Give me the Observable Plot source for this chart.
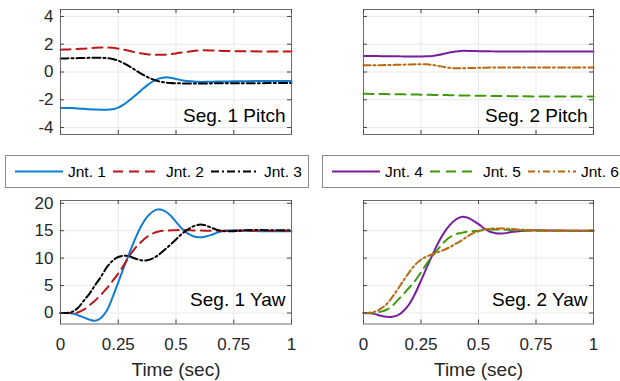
<!DOCTYPE html>
<html><head><meta charset="utf-8">
<script src="https://cdn.jsdelivr.net/npm/d3@7"></script>
<script src="https://cdn.jsdelivr.net/npm/@observablehq/plot@0.6"></script>
<style>
html,body{margin:0;padding:0;background:#fff;}
#chart{position:relative;width:620px;height:381px;overflow:hidden;background:#fff;font-family:"Liberation Sans",Arial,sans-serif;}
#chart > svg{position:absolute;}
</style></head><body><div id="chart"></div>
<script>
// ---- data ----
const time = [0,0.025,0.05,0.075,0.1,0.125,0.15,0.175,0.2,0.225,0.25,0.275,0.3,0.325,0.35,0.375,0.4,0.425,0.45,0.475,0.5,0.525,0.55,0.575,0.6,0.625,0.65,0.675,0.7,0.75,0.8,0.9,1];

const jnt1Pitch = [-2.58,-2.59,-2.60,-2.62,-2.65,-2.68,-2.70,-2.72,-2.72,-2.68,-2.56,-2.33,-2.02,-1.67,-1.31,-0.96,-0.67,-0.48,-0.39,-0.41,-0.50,-0.59,-0.65,-0.69,-0.71,-0.71,-0.70,-0.69,-0.69,-0.67,-0.66,-0.65,-0.65];
const jnt2Pitch = [1.60,1.62,1.64,1.66,1.68,1.71,1.74,1.76,1.76,1.74,1.68,1.60,1.51,1.41,1.34,1.28,1.25,1.24,1.25,1.29,1.34,1.40,1.46,1.52,1.55,1.56,1.55,1.53,1.52,1.50,1.49,1.48,1.48];
const jnt3Pitch = [0.97,0.98,0.99,1.00,1.01,1.02,1.03,1.02,1.00,0.94,0.82,0.62,0.39,0.13,-0.13,-0.35,-0.53,-0.67,-0.75,-0.79,-0.81,-0.82,-0.82,-0.82,-0.82,-0.82,-0.82,-0.81,-0.81,-0.81,-0.81,-0.80,-0.80];
const jnt4Pitch = [1.15,1.15,1.15,1.14,1.14,1.13,1.13,1.12,1.12,1.12,1.12,1.13,1.16,1.22,1.31,1.41,1.48,1.52,1.52,1.51,1.50,1.49,1.49,1.48,1.48,1.48,1.48,1.48,1.48,1.48,1.48,1.48,1.48];
const jnt5Pitch = [-1.57,-1.575,-1.58,-1.585,-1.59,-1.60,-1.605,-1.61,-1.62,-1.625,-1.63,-1.64,-1.65,-1.655,-1.66,-1.67,-1.68,-1.685,-1.69,-1.70,-1.71,-1.715,-1.72,-1.725,-1.73,-1.735,-1.74,-1.745,-1.75,-1.76,-1.765,-1.77,-1.77];
const jnt6Pitch = [0.48,0.48,0.49,0.49,0.50,0.51,0.52,0.53,0.54,0.55,0.55,0.55,0.51,0.44,0.36,0.30,0.27,0.27,0.28,0.29,0.30,0.31,0.32,0.32,0.33,0.33,0.33,0.33,0.33,0.33,0.33,0.33,0.33];

const jnt1Yaw = [0,0,-0.1,-0.4,-0.8,-1.2,-1.4,-0.9,0.4,2.8,5.6,8.4,11.1,13.7,15.9,17.5,18.5,18.9,18.6,17.8,16.6,15.4,14.5,14.0,13.8,13.9,14.2,14.6,14.9,15.1,15.0,14.9,14.9];
const jnt2Yaw = [0,0,0,0.1,0.6,1.4,2.3,3.3,4.5,5.8,7.2,8.8,10.5,11.9,13.0,13.9,14.5,14.85,15.0,15.05,15.1,15.1,15.1,15.05,15.05,15.0,15.0,15.0,15.0,15.0,15.0,15.0,15.0];
const jnt3Yaw = [0,0,0.2,0.9,2.2,3.5,5.1,6.6,8.3,9.5,10.2,10.45,10.3,9.9,9.6,9.6,9.95,10.6,11.5,12.4,13.4,14.4,15.2,15.8,16.1,16.0,15.6,15.2,14.95,14.9,15.1,15.1,15.1];
const jnt4Yaw = [0,-0.05,-0.2,-0.5,-0.7,-0.7,-0.4,0.4,1.7,3.6,5.9,8.3,10.6,12.8,14.6,16.0,17.0,17.5,17.4,16.9,16.2,15.4,14.8,14.55,14.5,14.6,14.8,14.9,15.0,15.1,15.05,15.0,15.0];
const jnt5Yaw = [0,0,0.05,0.25,0.6,1.3,2.4,3.5,4.7,5.9,7.4,9.0,10.4,11.7,12.9,13.8,14.35,14.6,14.8,14.9,15.0,15.1,15.2,15.2,15.2,15.15,15.1,15.1,15.05,15.0,15.0,15.0,15.0];
const jnt6Yaw = [0,0.05,0.25,0.8,1.6,2.9,4.4,6.0,7.5,8.8,9.7,10.3,10.7,11.1,11.5,12.0,12.6,13.2,13.9,14.5,14.9,15.2,15.35,15.4,15.4,15.35,15.3,15.2,15.15,15.05,15.0,15.0,15.0];

const jointNames = ["Jnt. 1","Jnt. 2","Jnt. 3","Jnt. 4","Jnt. 5","Jnt. 6"];
const jointColors = ["#0d7dd6","#bf1515","#000000","#7a1ea0","#3d9b0a","#b8690d"];
const jointDashes = [null,"10,6","8,3,2,3",null,"10,6","7,3,2,3"];
const pitchTicks = [-4,-2,0,2,4];
const yawTicks = [0,5,10,15,20];
const timeTicks = [0,0.25,0.5,0.75,1];
const panelLabels = ["Seg. 1 Pitch","Seg. 2 Pitch","Seg. 1 Yaw","Seg. 2 Yaw"];
const xAxisLabel = "Time (sec)";

// ---- drawing ----
const FONT = '"Liberation Sans", Arial, Helvetica, sans-serif';
const chart = document.getElementById("chart");
const rows = vals => time.map((t, i) => ({t, v: vals[i]}));

function panel({series, idx, yDomain, yTicks, label, showY, showX, left, top, width, height, mL, mR, mT, mB, labelDy}) {
  const pw = width - mL - mR, ph = height - mT - mB;
  const marks = [
    Plot.gridX(timeTicks, {x: d => d, stroke: "#e8e8e8", strokeOpacity: 1}),
    Plot.gridY(yTicks, {y: d => d, stroke: "#e8e8e8", strokeOpacity: 1}),
    ...series.map((s, k) => Plot.line(rows(s), {
      x: "t", y: "v", stroke: jointColors[idx[k]], strokeWidth: 2,
      strokeDasharray: jointDashes[idx[k]], curve: "catmull-rom"
    })),
    Plot.frame({stroke: "#6b6b6b", strokeWidth: 1}),
    Plot.tickY(yTicks, {y: d => d, insetRight: pw - 4, stroke: "#444"}),
    Plot.tickY(yTicks, {y: d => d, insetLeft: pw - 4, stroke: "#444"}),
    Plot.tickX(timeTicks, {x: d => d, insetTop: ph - 4, stroke: "#444"}),
    Plot.tickX(timeTicks, {x: d => d, insetBottom: ph - 4, stroke: "#444"}),
    Plot.text([label], {text: d => d, frameAnchor: "bottom-right", textAnchor: "end", lineAnchor: "bottom", dx: -6, dy: labelDy, fontSize: 19, fill: "#000"})
  ];
  if (showY) marks.push(Plot.axisY({ticks: yTicks, tickSize: 0, tickPadding: 7, tickFormat: d => String(d), label: null, fontSize: 17}));
  if (showX) {
    marks.push(Plot.axisX({ticks: timeTicks, tickSize: 0, tickPadding: 14, tickFormat: d => String(d), label: null, fontSize: 17}));
    marks.push(Plot.text([xAxisLabel], {text: d => d, frameAnchor: "bottom", lineAnchor: "bottom", dy: 51.5, fontSize: 19, fill: "#262626"}));
  }
  const svg = Plot.plot({
    width, height, marginLeft: mL, marginRight: mR, marginTop: mT, marginBottom: mB,
    x: {domain: [0, 1], axis: null},
    y: {domain: yDomain, axis: null},
    style: {fontFamily: FONT, fontSize: "17px", color: "#262626", background: "transparent", overflow: "visible"},
    marks
  });
  svg.style.left = left + "px";
  svg.style.top = top + "px";
  chart.appendChild(svg);
}

panel({series: [jnt1Pitch, jnt2Pitch, jnt3Pitch], idx: [0,1,2], yDomain: [-4.5, 4.5], yTicks: pitchTicks, label: panelLabels[0], showY: true, showX: false, left: 0, top: 0, width: 310, height: 150, mL: 60, mR: 19, mT: 9, mB: 16, labelDy: -13});
panel({series: [jnt4Pitch, jnt5Pitch, jnt6Pitch], idx: [3,4,5], yDomain: [-4.5, 4.5], yTicks: pitchTicks, label: panelLabels[1], showY: false, showX: false, left: 310, top: 0, width: 310, height: 150, mL: 53, mR: 27, mT: 9, mB: 16, labelDy: -13});
panel({series: [jnt1Yaw, jnt2Yaw, jnt3Yaw], idx: [0,1,2], yDomain: [-2, 20.5], yTicks: yawTicks, label: panelLabels[2], showY: true, showX: true, left: 0, top: 190, width: 310, height: 191, mL: 60, mR: 19, mT: 10, mB: 57.5, labelDy: -18.5});
panel({series: [jnt4Yaw, jnt5Yaw, jnt6Yaw], idx: [3,4,5], yDomain: [-2, 20.5], yTicks: yawTicks, label: panelLabels[3], showY: false, showX: true, left: 310, top: 190, width: 310, height: 191, mL: 53, mR: 27, mT: 10, mB: 57.5, labelDy: -18.5});

// ---- legends ----
const leg = d3.create("svg").attr("width", 620).attr("height", 381)
  .style("left", "0px").style("top", "0px").style("font-family", FONT);
const boxes = [{x: 5, w: 303, items: [0,1,2]}, {x: 322, w: 310, items: [3,4,5]}];
boxes.forEach(b => {
  leg.append("rect").attr("x", b.x + 0.5).attr("y", 155.5).attr("width", b.w).attr("height", 32)
    .attr("fill", "#fff").attr("stroke", "#8a8a8a").attr("stroke-width", 1);
  b.items.forEach((j, k) => {
    const x0 = b.x + 10 + k * 98;
    leg.append("line").attr("x1", x0).attr("x2", x0 + 48).attr("y1", 171.5).attr("y2", 171.5)
      .attr("stroke", jointColors[j]).attr("stroke-width", 2)
      .attr("stroke-dasharray", jointDashes[j]);
    leg.append("text").attr("x", x0 + 53).attr("y", 177).attr("font-size", 15.5)
      .attr("fill", "#000").text(jointNames[j]);
  });
});
chart.appendChild(leg.node());
</script></body></html>
